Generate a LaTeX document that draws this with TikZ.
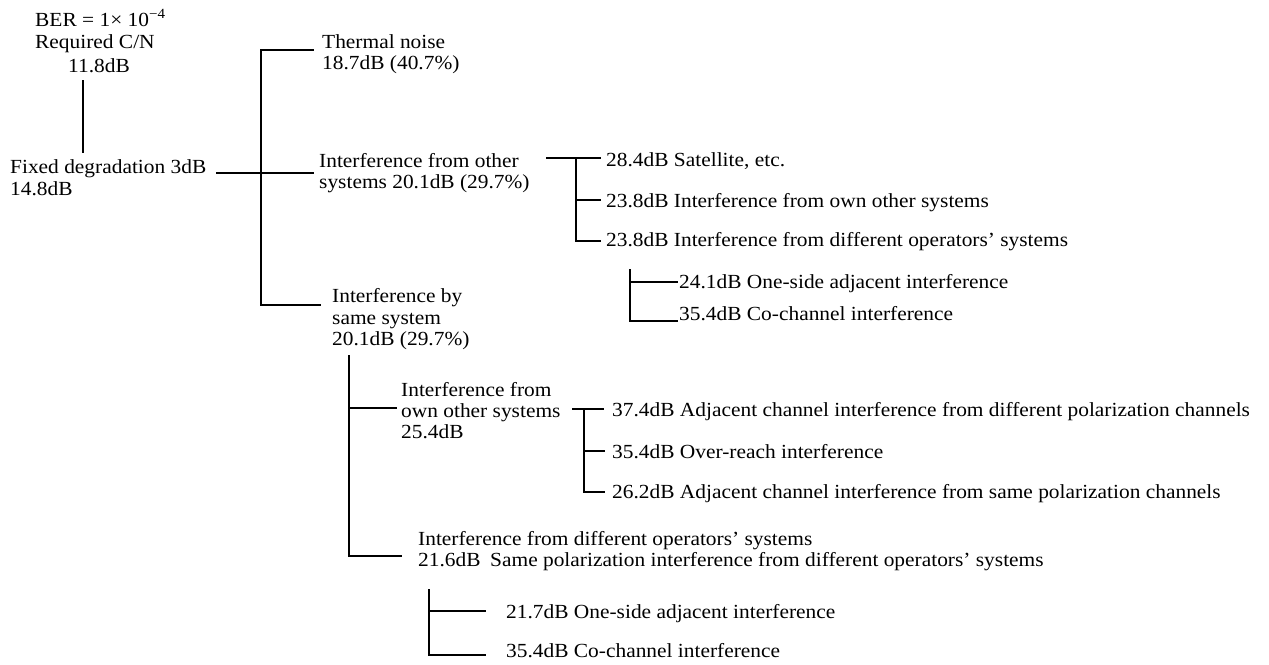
\documentclass[tikz,border=0pt]{standalone}
\usepackage{fontspec}
\setmainfont{Liberation Serif}[FakeStretch=1.07]
\begin{document}
\begin{tikzpicture}[x=1pt,y=-1pt,
  lbl/.style={inner sep=0pt,anchor=base west,font=\fontsize{20}{20}\selectfont},
  tree/.style={line width=1.3pt,line cap=rect}]
\useasboundingbox (0,0) rectangle (1269,664);
% top-left
\node[lbl] (ber) at (35,26) {BER = 1× 10\textsuperscript{−4}};
\node[lbl] (req) at (35,48) {Required C/N};
\node[lbl] (cn) at (68,72) {11.8dB};
\node[lbl] (fix1) at (10,173) {Fixed degradation 3dB};
\node[lbl] (fix2) at (10,195) {14.8dB};
\coordinate (cnA) at (83,81);
\coordinate (cnB) at (83,152);
\draw[tree] (cnA) -- (cnB);
% main junction
\coordinate (f0) at (217,173);
\coordinate (jt) at (261,50);
\coordinate (jb) at (261,305);
\coordinate (th0) at (313,50);
\coordinate (os0) at (313,173);
\coordinate (ss0) at (320,305);
\draw[tree] (f0) -- (os0);
\draw[tree] (th0) -- (jt) -- (jb) -- (ss0);
\node[lbl] (th1) at (322,48) {Thermal noise};
\node[lbl] (th2) at (322,69) {18.7dB (40.7\%)};
\node[lbl] (os1) at (319,167) {Interference from other};
\node[lbl] (os2) at (319,188) {systems 20.1dB (29.7\%)};
\node[lbl] (ss1) at (332,302) {Interference by};
\node[lbl] (ss2) at (332,324) {same system};
\node[lbl] (ss3) at (332,345) {20.1dB (29.7\%)};
% sub A
\coordinate (a0) at (547,158);
\coordinate (aT) at (576,158);
\coordinate (aM) at (576,200);
\coordinate (aB) at (576,241);
\coordinate (a1e) at (600,158);
\coordinate (a2e) at (600,200);
\coordinate (a3e) at (600,241);
\draw[tree] (a0) -- (a1e);
\draw[tree] (aT) -- (aB) -- (a3e);
\draw[tree] (aM) -- (a2e);
\node[lbl] (a1) at (606,166) {28.4dB Satellite, etc.};
\node[lbl] (a2) at (606,207) {23.8dB Interference from own other systems};
\node[lbl] (a3) at (606,246) {23.8dB Interference from different operators’ systems};
% sub B
\coordinate (bT) at (630,270);
\coordinate (bM) at (630,282);
\coordinate (bB) at (630,321);
\coordinate (b1e) at (677,282);
\coordinate (b2e) at (677,321);
\draw[tree] (bT) -- (bB) -- (b2e);
\draw[tree] (bM) -- (b1e);
\node[lbl] (b1) at (679,288) {24.1dB One-side adjacent interference};
\node[lbl] (b2) at (679,320) {35.4dB Co-channel interference};
% lower tree
\coordinate (lT) at (349,356);
\coordinate (lM) at (349,408);
\coordinate (lB) at (349,556);
\coordinate (oo0) at (396,408);
\coordinate (dd0) at (401,556);
\draw[tree] (lT) -- (lB) -- (dd0);
\draw[tree] (lM) -- (oo0);
\node[lbl] (o1) at (401,396) {Interference from};
\node[lbl] (o2) at (401,417) {own other systems};
\node[lbl] (o3) at (401,438) {25.4dB};
% sub C
\coordinate (c0) at (573,409);
\coordinate (cT) at (584,409);
\coordinate (cM) at (584,451);
\coordinate (cB) at (584,492);
\coordinate (c1e) at (603,409);
\coordinate (c2e) at (604,451);
\coordinate (c3e) at (604,492);
\draw[tree] (c0) -- (c1e);
\draw[tree] (cT) -- (cB) -- (c3e);
\draw[tree] (cM) -- (c2e);
\node[lbl] (c1) at (612,416) {37.4dB Adjacent channel interference from different polarization channels};
\node[lbl] (c2) at (612,458) {35.4dB Over-reach interference};
\node[lbl] (c3) at (612,498) {26.2dB Adjacent channel interference from same polarization channels};
% bottom
\node[lbl] (d1) at (418,545) {Interference from different operators’ systems};
\node[lbl] (d2) at (418,566) {21.6dB};
\node[lbl] (d3) at (490,566) {Same polarization interference from different operators’ systems};
% sub D
\coordinate (eT) at (429,590);
\coordinate (eM) at (429,611);
\coordinate (eB) at (429,655);
\coordinate (e1e) at (485,611);
\coordinate (e2e) at (485,655);
\draw[tree] (eT) -- (eB) -- (e2e);
\draw[tree] (eM) -- (e1e);
\node[lbl] (e1) at (506,618) {21.7dB One-side adjacent interference};
\node[lbl] (e2) at (506,657) {35.4dB Co-channel interference};
\end{tikzpicture}
\end{document}
